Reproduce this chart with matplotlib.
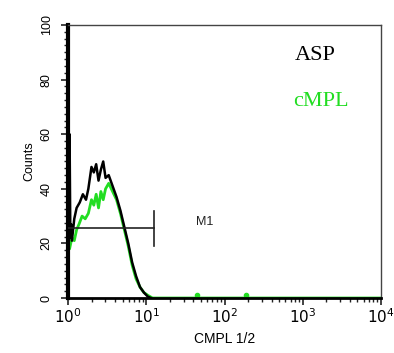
import matplotlib
matplotlib.use("Agg")
import matplotlib.pyplot as plt
import matplotlib.ticker as mticker
import numpy as np

plt.rcParams['mathtext.fontset'] = 'custom'
plt.rcParams['mathtext.rm'] = 'Liberation Sans'
plt.rcParams['mathtext.it'] = 'Liberation Sans'
plt.rcParams['mathtext.bf'] = 'Liberation Sans'
plt.rcParams['mathtext.default'] = 'rm'

# histogram traces, x given as log10 of channel value
asp_logx = [0.005, 0.02, 0.03, 0.04, 0.05, 0.08, 0.11, 0.15, 0.19, 0.23, 0.26, 0.30, 0.33,
            0.36, 0.39, 0.42, 0.45, 0.48, 0.52, 0.57, 0.62, 0.67, 0.72, 0.77, 0.82, 0.87,
            0.92, 0.97, 1.02, 1.06]
asp_counts = [25, 60, 22, 27, 21, 29, 33, 35, 38, 36, 40, 48, 46,
              49, 43, 47, 50, 44, 45, 41, 37, 32, 26, 20, 13, 8,
              4, 2, 0.5, 0]

cmpl_logx = [0.0, 0.02, 0.05, 0.08, 0.11, 0.14, 0.18, 0.22, 0.26, 0.30, 0.33, 0.36, 0.39,
             0.42, 0.45, 0.48, 0.52, 0.57, 0.62, 0.67, 0.72, 0.77, 0.82, 0.87, 0.92, 0.97,
             1.02, 1.08, 4.0]
cmpl_counts = [20, 18, 22, 21, 25, 27, 30, 29, 31, 36, 34, 38, 33,
               39, 36, 40, 42, 39, 36, 31, 25, 19, 12, 7, 4, 2,
               1, 0, 0]
cmpl_dots_x = [45, 190]
cmpl_dots_y = [1, 1]

m1_range = [1.0, 12.6]
m1_level = 25.5
m1_tick = [19, 32]

fig = plt.figure(figsize=(3.94, 3.53), dpi=100)
ax = fig.add_axes([0.1726, 0.1558, 0.7944, 0.7734])

green = '#22dd22'
ax.plot(10 ** np.array(cmpl_logx), cmpl_counts, color=green, lw=2.0, zorder=2)
ax.plot(cmpl_dots_x, cmpl_dots_y, 'o', color=green, ms=3, zorder=2, clip_on=False)
ax.plot(10 ** np.array(asp_logx), asp_counts, color='black', lw=1.8, zorder=3)

# M1 marker
ax.plot(m1_range, [m1_level, m1_level], color='#222222', lw=1.2, zorder=4)
ax.plot([m1_range[1], m1_range[1]], m1_tick, color='#222222', lw=1.2, zorder=4)
ax.text(56, 28, 'M1', fontsize=9, family='Liberation Sans', color='#222222',
        ha='center', va='center')

ax.text(0.725, 0.89, 'ASP', transform=ax.transAxes, fontsize=16,
        family='Liberation Serif', color='black', ha='left', va='center')
ax.text(0.718, 0.718, 'cMPL', transform=ax.transAxes, fontsize=16,
        family='Liberation Serif', color=green, ha='left', va='center')

ax.set_xscale('log')
ax.set_xlim(1, 10000)
ax.set_ylim(0, 100)
ax.yaxis.set_major_locator(mticker.MultipleLocator(20))
ax.yaxis.set_minor_locator(mticker.MultipleLocator(2.5))
ax.xaxis.set_major_locator(mticker.LogLocator(base=10))
ax.xaxis.set_minor_locator(mticker.LogLocator(base=10, subs=np.arange(2, 10)))
ax.xaxis.set_minor_formatter(mticker.NullFormatter())

ax.tick_params(axis='both', which='major', direction='out', length=5, width=1.2,
               color='#222222')
ax.tick_params(axis='both', which='minor', direction='out', length=3, width=1.0,
               color='#222222')
ax.tick_params(axis='x', labelsize=11, pad=2)
ax.tick_params(axis='y', labelsize=9, pad=6)
for lab in ax.get_yticklabels():
    lab.set_rotation(90)
    lab.set_va('center')
    lab.set_family('Liberation Sans')

ax.spines['left'].set_linewidth(3)
ax.spines['bottom'].set_linewidth(2)
ax.spines['top'].set_linewidth(1)
ax.spines['right'].set_linewidth(1)
ax.spines['top'].set_color('#444444')
ax.spines['right'].set_color('#444444')

ax.set_ylabel('Counts', fontsize=9, family='Liberation Sans', labelpad=4)
ax.set_xlabel('CMPL 1/2', fontsize=10, family='Liberation Sans', labelpad=4)

fig.savefig('out.png', dpi=100)
